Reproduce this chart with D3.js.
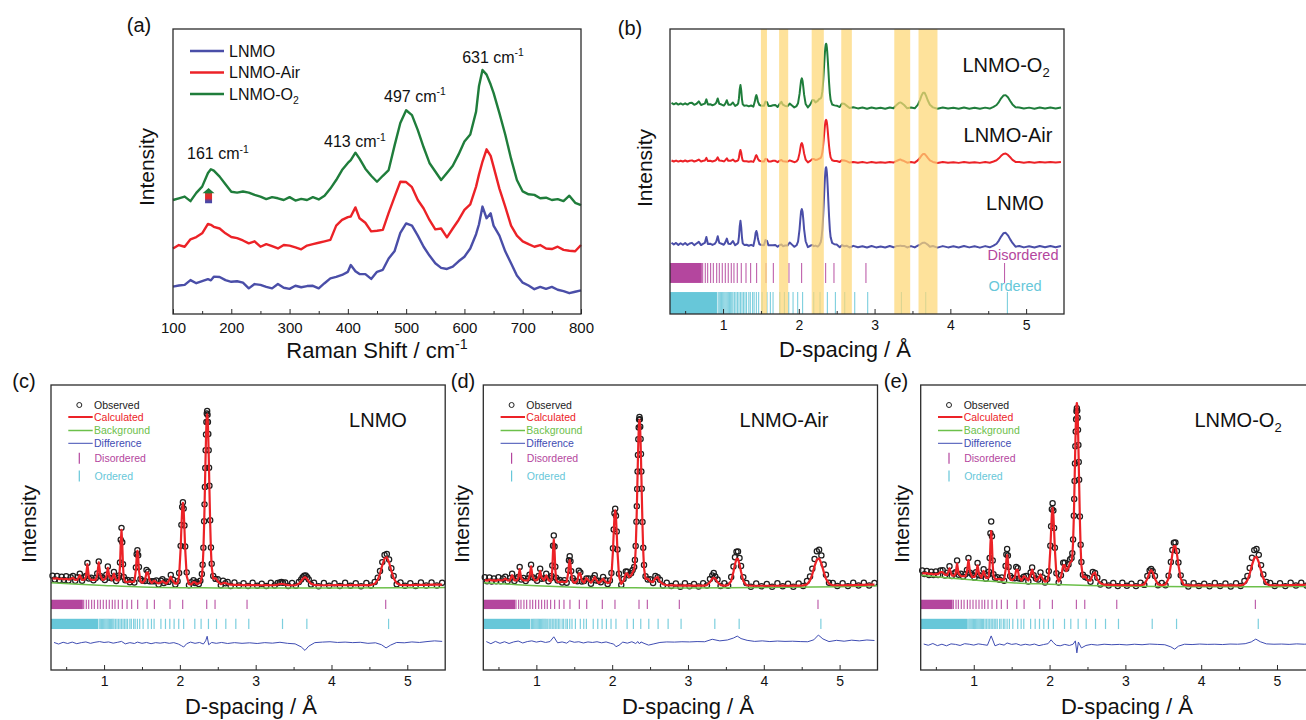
<!DOCTYPE html>
<html>
<head>
<meta charset="utf-8">
<script src="https://cdn.jsdelivr.net/npm/d3@7/dist/d3.min.js"></script>
<style>
  body { margin: 0; background: #fff; }
  svg { display: block; }
</style>
</head>
<body>
<svg id="fig" width="1306" height="720"></svg>
<script>
'use strict';

// ---------- (a) Raman spectra ----------
var ramanShift = [100,110,120,130,140,150,160,165,170,180,
  190,200,210,220,230,240,250,260,270,280,
  290,300,310,320,330,340,350,360,370,380,
  390,400,405,413,420,430,440,450,460,470,
  480,490,500,510,520,530,540,550,560,570,
  580,590,600,610,620,625,631,638,645,650,
  660,670,680,690,700,710,720,730,740,750,
  760,770,780,790,800];
var ramanLNMO = [9.6,10.0,10.2,11.9,10.8,11.5,12.2,11.8,13.1,13.0,
  11.9,11.3,11.5,11.0,9.0,10.5,10.2,9.5,9.0,10.5,
  9.2,8.8,9.9,9.4,9.8,9.9,9.0,10.8,12.5,13.0,
  13.7,14.8,17.2,15.0,14.0,14.0,12.3,14.8,15.5,19.5,
  22.0,28.5,31.8,31.0,27.5,23.6,20.5,17.8,16.2,15.8,
  16.6,18.5,20.1,23.0,28.0,31.5,37.7,33.6,35.3,31.0,
  27.5,22.0,17.8,13.5,11.0,10.0,8.7,9.5,8.8,9.5,
  8.5,8.0,7.3,7.8,8.3];
var ramanAir = [23.0,24.2,23.6,26.2,27.0,28.3,31.6,31.3,30.6,30.0,
  28.3,27.0,26.6,25.8,24.8,25.5,23.6,24.5,23.8,23.0,
  24.2,24.0,23.4,22.7,24.0,24.5,25.0,25.5,26.0,31.0,
  33.0,34.0,34.2,37.4,33.6,32.0,29.0,29.2,29.5,35.5,
  41.0,46.4,46.3,44.5,40.0,37.0,33.0,29.7,30.0,26.9,
  30.0,33.0,36.5,38.5,44.7,49.0,53.5,57.8,55.5,51.7,
  44.0,37.7,31.0,27.5,25.5,24.5,23.6,24.2,23.0,22.8,
  23.6,22.5,22.2,22.0,24.2];
var ramanO2 = [40.0,40.6,41.2,39.6,42.5,44.7,49.5,50.8,50.3,48.2,
  45.5,42.9,42.6,43.0,42.6,41.8,41.2,40.3,41.0,40.6,
  40.0,41.0,39.8,40.4,40.0,41.0,40.2,41.5,44.0,47.0,
  50.5,53.0,54.0,56.6,54.5,51.0,48.5,46.4,48.5,50.5,
  59.0,67.0,71.5,69.8,64.5,58.5,53.0,50.0,47.0,49.5,
  52.0,56.0,60.5,63.0,71.0,80.0,85.6,84.0,80.5,77.6,
  70.5,63.0,54.5,47.0,43.0,42.0,41.8,40.6,40.8,40.0,
  40.3,39.6,41.5,39.0,38.2];
var ramanSeriesNames = ['LNMO', 'LNMO-Air', 'LNMO-O2'];
var ramanPeakLabels = ['161', '413', '497', '631'];
var ramanPeakLabelAt = [177, 412, 515, 649];
var ramanPeakLabelLevel = [54.3, 58.5, 74.5, 88.2];
var ramanArrowAt = 161;
var ramanArrowSpan = [38.9, 44.2];
var ramanMajorTicks = [100, 200, 300, 400, 500, 600, 700, 800];
var ramanMinorTicks = [150, 250, 350, 450, 550, 650, 750];

// ---------- neutron diffraction, shared d-spacing grid ----------
var dSpacing = [0.32,0.35,0.38,0.41,0.44,0.47,0.50,0.53,0.56,0.59,
  0.62,0.65,0.68,0.71,0.74,0.76,0.78,0.80,0.83,0.86,
  0.89,0.91,0.93,0.95,0.98,1.01,1.03,1.05,1.07,1.10,
  1.13,1.16,
  1.19,1.20,1.21,1.22,1.23,1.24,1.25,1.26,1.28,
  1.31,1.34,1.37,1.40,
  1.42,1.43,1.44,1.45,1.46,1.48,
  1.51,1.54,1.56,1.58,1.60,1.63,1.66,1.69,1.72,1.75,1.77,1.79,1.82,1.85,1.88,1.91,1.94,1.97,
  1.99,2.01,2.02,2.03,2.04,2.05,2.06,2.07,2.09,
  2.12,2.15,2.18,2.20,2.22,2.25,2.27,
  2.29,2.30,2.31,2.32,2.325,2.33,2.335,2.34,2.345,2.35,2.355,2.36,2.365,2.37,2.375,2.38,2.385,2.39,2.40,2.41,2.42,
  2.44,2.47,2.50,2.54,2.57,2.60,2.63,2.67,2.72,2.78,
  2.84,2.90,2.96,3.02,3.08,3.14,3.20,3.25,3.29,3.32,
  3.34,3.36,3.39,3.43,3.48,3.53,3.57,3.60,3.62,3.64,
  3.66,3.68,3.70,3.73,3.77,3.83,3.90,3.97,4.04,4.11,
  4.18,4.25,4.32,4.39,4.46,4.52,4.57,4.61,4.64,4.67,
  4.70,4.73,4.76,4.79,4.82,4.86,4.91,4.97,5.04,5.11,
  5.18,5.25,5.32,5.39,5.46];

var calcLNMO = [5.5,5.3,5.6,5.0,5.4,4.9,5.3,4.8,5.2,5.8, 4.6,4.8,7.3,4.6,4.8,6.0,13.5,6.0,4.6,4.7, 4.6,7.4,14.5,7.4,4.6,5.0,6.5,11.4,6.4,4.5, 8.2,4.5,
  4.2,5.8,12.4,25.3,33.0,25.1,12.2,5.5,3.6,
  3.4,3.8,3.3,3.7,
  10.4,17.4,21.1,17.3,10.2,3.6,
  3.0,4.4,8.8,8.7,4.3,2.9,4.2,3.2,2.6,3.3,4.0,3.3,2.5,3.9,6.4,3.9,2.5,2.8,
  6.9,22.3,34.0,44.2,48.2,44.2,34.0,22.2,6.8,
  2.2,2.1,3.4,3.3,2.3,2.7,3.0,
  6.4,11.5,21.1,36.1,45.5,55.7,66.1,76.2,85.2,92.3,96.8,98.4,96.8,92.3,85.2,76.2,66.1,55.7,36.1,21.1,12.0,
  5.4,5.6,3.8,2.2,2.8,2.9,2.4,1.9,1.8,1.8, 1.7,1.8,1.7,1.7,1.6,1.7,1.6,1.7,1.9,2.3, 2.4,2.3,1.9,1.7,1.6,1.7,2.4,3.9,5.1,6.0,
  6.0,5.1,3.9,2.4,1.8,1.6,1.6,1.6,1.7,1.7, 1.6,1.7,1.7,1.6,1.7,1.7,2.4,4.6,8.2,12.9, 16.8,17.5,14.5,9.7,5.6,2.7,1.8,1.7,1.7,1.8,
  1.8,1.8,1.9,1.9,2.0];
var obsLNMO = [7.0,4.9,6.8,4.4,6.4,4.6,6.7,4.3,6.1,6.9, 4.1,6.1,8.1,4.2,6.0,6.9,14.2,5.4,5.9,4.4, 5.7,8.3,15.1,6.9,5.8,4.6,7.5,12.2,5.8,5.6, 9.1,4.0,
  5.9,7.2,14.5,27.4,34.1,26.0,13.5,6.3,4.4,
  4.6,3.3,4.5,3.1,
  11.6,19.2,21.5,18.6,11.9,5.2,
  4.2,4.0,10.3,9.3,3.8,3.9,3.9,4.3,2.0,4.2,5.0,2.8,3.7,3.5,7.4,4.7,2.0,3.9,
  8.5,23.9,35.8,45.9,48.6,45.0,35.4,23.6,8.9,
  1.6,3.3,4.4,2.8,3.5,2.3,4.1,
  8.0,13.2,22.9,37.8,47.4,57.3,68.0,78.1,87.0,94.1,98.9,100.3,98.2,94.0,87.3,78.0,68.2,57.9,38.4,23.0,13.8,
  6.9,5.2,5.0,1.6,4.1,2.7,3.4,1.2,3.2,1.5, 2.8,1.2,3.0,1.3,2.5,1.2,3.0,1.4,2.9,3.1, 3.5,3.0,3.1,1.2,2.9,1.3,3.4,4.8,6.2,7.0,
  7.2,6.1,4.8,2.0,3.0,1.0,2.9,1.3,2.7,1.2, 3.0,1.3,2.8,1.0,2.9,1.4,3.4,5.8,9.7,14.7, 18.7,19.3,16.2,11.2,6.8,2.2,3.1,1.3,2.8,1.2,
  3.1,1.5,3.1,1.4,3.0];

var calcAir = [4.6,4.2,4.8,4.3,4.5,4.1,4.7,4.3,4.5,5.3, 4.4,4.3,7.3,4.4,4.3,5.4,10.8,5.4,4.4,4.3, 4.4,6.6,12.3,6.6,4.3,4.5,5.9,9.8,5.9,4.4, 7.2,4.4,
  3.7,5.0,10.5,21.1,27.5,21.1,10.5,5.0,3.6,
  3.4,3.7,3.3,3.6,
  8.5,13.4,15.9,13.4,8.4,3.7,
  2.9,4.2,8.3,8.3,4.2,3.0,5.7,4.3,3.0,4.8,6.3,4.8,2.9,3.7,5.3,3.7,2.8,3.2,
  6.7,20.8,31.1,40.3,44.0,40.3,31.1,20.8,6.6,
  2.4,4.0,8.2,8.3,6.2,7.1,8.8,
  10.4,14.0,22.0,35.8,44.6,54.3,64.2,73.8,82.6,89.3,93.8,95.3,93.8,89.3,82.6,73.8,64.2,54.3,35.4,20.9,11.4,
  5.2,5.3,3.8,3.4,5.6,6.3,3.7,2.2,1.6,1.5, 1.5,1.4,1.5,1.4,1.4,1.4,1.4,1.7,3.3,5.3, 5.9,5.3,3.3,1.7,1.4,1.7,4.0,9.2,13.5,16.5,
  16.5,13.5,9.2,4.0,1.7,1.3,1.3,1.3,1.3,1.3, 1.3,1.4,1.3,1.4,1.4,1.5,2.1,4.3,7.8,12.4, 16.1,16.8,13.9,9.3,5.3,2.5,1.6,1.6,1.6,1.7,
  1.7,1.8,1.8,1.9,1.9];
var obsAir = [6.1,3.8,6.0,3.7,5.5,3.8,6.1,3.8,5.4,6.4, 3.9,5.6,8.1,4.0,5.5,6.3,11.9,4.8,5.7,4.0, 5.5,7.5,13.2,6.1,5.5,4.1,6.9,10.9,5.3,5.5, 8.1,3.9,
  5.6,6.8,12.8,24.0,29.8,23.5,12.1,5.9,4.3,
  4.6,3.2,4.5,3.0,
  10.1,15.8,18.0,15.2,9.6,5.6,
  4.1,3.8,9.8,8.9,3.7,4.0,5.4,5.4,2.4,5.7,7.3,4.3,4.1,3.3,6.3,4.5,2.3,4.3,
  8.6,22.6,33.2,42.4,45.0,41.0,32.0,21.8,8.1,
  1.8,5.2,9.4,9.2,7.3,8.4,10.2,
  12.0,15.9,23.8,37.5,46.4,56.1,66.0,75.4,84.3,91.0,95.4,96.9,95.6,91.3,84.4,75.9,66.0,56.2,37.4,22.8,13.1,
  6.7,4.9,5.0,2.8,6.9,6.1,4.7,1.5,3.0,1.2, 2.6,0.8,2.8,1.0,2.3,0.9,2.8,1.4,5.1,7.2, 8.5,6.6,4.9,1.2,2.7,1.3,6.3,12.2,17.4,20.6,
  20.7,17.0,12.5,6.2,2.9,0.7,2.6,1.0,2.3,0.8, 2.7,1.0,2.4,0.8,2.6,1.2,4.0,6.6,11.0,16.5, 20.8,21.7,18.5,13.3,7.6,3.0,2.9,1.2,2.7,1.1,
  3.0,1.5,3.0,1.4,2.9];

var calcO2 = [8.5,8.3,8.5,8.0,8.2,7.7,8.0,7.9,9.0,9.0, 7.6,7.4,11.2,7.2,7.0,8.1,13.9,8.1,6.8,6.7, 6.7,9.3,15.9,9.2,6.3,6.3,8.0,12.9,7.9,5.9, 9.7,5.8,
  5.7,7.1,13.2,25.1,32.3,25.0,13.1,7.0,5.2,
  5.0,5.2,4.8,4.8,
  10.4,15.9,18.7,15.9,10.3,4.9,
  4.5,5.9,10.3,10.3,5.9,4.3,6.7,5.7,4.3,7.8,10.5,7.8,4.2,5.3,7.7,5.2,3.6,4.0,
  7.7,21.9,32.4,41.6,45.4,41.6,32.4,21.9,7.6,
  3.7,6.1,12.9,13.0,9.6,11.7,14.5,
  15.1,18.0,25.9,40.2,49.7,60.2,70.9,81.5,90.8,98.3,103.2,104.8,103.2,98.3,90.7,81.2,70.5,59.4,38.4,22.5,12.9,
  6.1,6.6,4.5,4.2,7.8,8.8,4.8,2.7,1.9,1.8, 1.8,1.7,1.7,1.7,1.6,1.6,1.6,2.1,5.3,9.0, 10.1,9.0,5.3,2.1,1.6,2.0,5.4,13.0,19.4,23.8,
  23.8,19.4,13.0,5.4,1.9,1.5,1.5,1.5,1.5,1.5, 1.5,1.5,1.5,1.5,1.5,1.5,2.2,4.5,8.1,13.0, 17.0,17.7,14.6,9.7,5.5,2.5,1.6,1.6,1.6,1.7,
  1.7,1.8,1.8,1.9,1.9];
var obsO2 = [10.0,7.9,9.7,7.4,9.2,7.4,9.4,7.4,9.9,10.1, 7.1,8.7,12.4,6.8,8.2,9.0,15.6,7.5,8.1,6.4, 7.8,10.2,17.0,8.7,7.5,5.9,9.0,14.2,7.3,7.0, 10.6,5.3,
  7.5,9.3,17.0,31.0,37.7,29.4,15.6,7.9,5.8,
  6.2,4.7,6.0,4.2,
  12.5,19.0,22.1,18.4,12.0,6.8,
  5.7,5.5,12.0,11.2,5.4,5.3,6.4,6.8,3.7,8.9,11.7,7.3,5.4,4.9,8.9,6.0,3.1,5.1,
  9.6,24.0,35.0,44.6,48.1,43.9,34.0,22.8,8.4,
  3.1,7.3,14.4,14.3,10.9,13.3,16.2,
  17.0,19.8,27.5,41.0,50.5,60.6,70.6,80.3,88.7,95.6,100.1,101.9,100.5,96.4,89.6,81.0,71.4,61.3,40.6,24.5,14.8,
  7.6,6.2,5.7,3.6,9.1,8.6,5.8,2.0,3.3,1.5, 2.9,1.1,3.0,1.3,2.5,1.1,3.0,1.8,6.9,10.0, 10.8,9.6,6.8,1.6,2.9,1.6,7.0,14.8,21.6,25.7,
  25.8,21.0,14.5,7.2,3.1,0.9,2.8,1.2,2.5,1.0, 2.9,1.1,2.6,0.9,2.7,1.2,4.0,6.8,11.4,17.2, 21.5,22.1,18.8,13.0,7.7,3.4,2.9,1.2,2.7,1.1,
  3.0,1.5,3.0,1.4,2.9];

var bgSpacing = [0.3, 0.6, 1.0, 1.5, 2.0, 2.5, 3.0, 4.0, 5.0, 5.5];
var bgLNMO = [3.0, 2.3, 1.5, 0.6, 0.2, 0.1, 0.1, 0.1, 0.2, 0.3];
var bgAir = [3.0, 2.3, 1.3, 0.5, 0.2, 0.1, 0.1, 0.3, 0.8, 1.3];
var bgO2 = [7.2, 6.0, 4.5, 3.0, 2.2, 1.5, 1.0, 0.7, 0.8, 1.0];

var diffSpacing = [0.34,0.40,0.46,0.52,0.58,0.64,0.70,0.76,0.82,0.88,
  0.94,1.00,1.06,1.12,1.18,1.23,1.28,1.34,1.40,1.44,
  1.50,1.56,1.62,1.68,1.74,1.80,1.86,1.92,1.98,2.02,
  2.05,2.09,2.14,2.20,2.26,2.31,2.34,2.36,2.38,2.42,
  2.48,2.55,2.63,2.72,2.82,2.92,3.02,3.12,3.22,3.32,
  3.42,3.52,3.60,3.65,3.70,3.78,3.88,3.98,4.08,4.18,
  4.28,4.38,4.48,4.58,4.66,4.72,4.78,4.86,4.96,5.06,
  5.16,5.26,5.36,5.46];
var diffLNMO = [0.3,-0.6,0.4,-0.3,0.5,-0.4,0.2,0.6,-0.2,0.4,
  0.8,0.3,0.6,-0.1,0.4,0.9,-0.5,0.2,-0.3,0.5,
  -0.2,0.3,-0.4,0.2,-0.1,0.3,-0.2,0.2,-0.6,-1.5,
  -2.3,-0.4,0.5,-0.2,0.3,-0.6,1.2,3.8,-1.0,0.3,
  -0.2,0.3,-0.3,0.2,-0.2,0.1,-0.3,0.2,-0.1,0.4,
  -0.2,-0.5,-2.2,-4.2,-1.8,0.2,0.5,0.7,0.3,0.5,
  0.2,0.4,-0.2,0.1,-1.0,-2.8,-1.2,0.3,0.1,0.6,
  0.3,0.8,1.2,0.9];
var diffAir = [0.5,-0.7,0.6,-0.5,0.4,-0.6,0.3,0.8,-0.3,0.5,
  0.9,0.2,0.7,0.0,0.5,3.2,-0.2,0.3,-0.4,0.9,
  0.1,0.4,-0.3,0.3,0.0,0.4,-0.2,0.3,-0.5,-0.9,
  -2.4,-1.6,0.2,-0.4,0.4,-0.6,0.5,-0.8,0.3,-0.5,
  -1.5,-0.8,0.0,0.3,0.2,0.4,0.3,0.5,0.4,1.8,
  0.9,1.4,2.5,3.6,2.2,1.2,0.6,0.9,0.5,0.8,
  0.6,0.7,0.5,0.4,1.5,4.2,2.0,0.5,1.2,0.7,
  1.3,0.9,1.4,1.1];
var diffO2 = [0.4,-0.3,0.7,-0.5,0.3,-0.6,0.5,0.2,-0.4,0.6,
  0.3,-0.2,0.5,0.1,-0.3,5.0,-0.6,0.4,-0.2,1.0,
  0.2,0.6,-0.3,0.3,-0.2,0.4,-0.5,0.1,0.6,2.8,
  1.2,-0.3,-0.6,0.2,-0.4,0.3,2.2,-4.6,1.5,-1.8,
  -0.4,0.2,-0.2,0.3,0.0,0.2,-0.1,0.3,0.0,0.4,
  0.2,0.0,-1.2,-2.5,-0.8,0.3,0.1,0.4,0.2,0.3,
  0.1,0.4,0.3,0.6,1.6,3.2,1.7,0.5,0.3,0.4,
  0.2,0.5,0.3,0.6];

// reflection markers
var disorderedBlockEnd = 0.72;
var disorderedTicks = [0.731,0.766,0.797,0.836,0.872,0.916,0.951,0.990,1.030,1.069,
  1.109,1.144,1.188,1.241,1.303,1.364,1.443,1.567,1.664,1.870,
  2.037,2.354,2.464,2.886,4.715];
var orderedBlockEnd = 0.92;
var orderedTicks = [0.935,0.95,0.965,0.98,0.995,1.01,1.025,1.04,1.055,1.07,
  1.085,1.10,1.115,1.13,1.15,1.17,1.19,1.21,1.23,1.25,
  1.27,1.29,1.31,1.34,1.36,1.39,1.41,1.44,1.47,1.515,
  1.58,1.625,1.66,1.75,1.81,1.867,1.924,1.985,2.05,2.197,
  2.28,2.377,2.483,2.606,2.738,2.909,3.354,3.675,4.753];

// (b) highlighted d-ranges
var bandRanges = [[1.50, 1.58], [1.74, 1.86], [2.17, 2.33], [2.56, 2.70], [3.26, 3.47], [3.58, 3.83]];
var dMajorTicks = [1, 2, 3, 4, 5];
var dMinorTicks = [0.5, 1.5, 2.5, 3.5, 4.5];

var FONT = '"Liberation Sans", Arial, Helvetica, sans-serif';
var COL = {
  blue: '#4a4ea8', red: '#ec2227', green: '#1f7d3b', bg: '#6cc04a',
  diff: '#3f4db3', magenta: '#b4469e', cyan: '#67c7d9', band: '#fdd775',
  frame: '#2b2b2b', text: '#111'
};

var svg = d3.select('#fig').style('font-family', FONT);

// text with sub/superscript parts: [[text, 'sup'|'sub'|null], ...]
function richText(parent, x, y, parts, size, color, anchor) {
  var t = parent.append('text').attr('x', x).attr('y', y)
    .attr('font-size', size).attr('fill', color || COL.text)
    .attr('text-anchor', anchor || 'start');
  var shift = 0;
  parts.forEach(function (p) {
    var s = p[1] === 'sup' ? -0.42 * size : (p[1] === 'sub' ? 0.25 * size : 0);
    t.append('tspan').attr('dy', s - shift)
      .attr('font-size', p[1] ? size * 0.65 : size).text(p[0]);
    shift = s;
  });
  return t;
}

function bottomAxis(g, x, y, major, minor, fontSize, pad) {
  var ax = g.append('g').attr('transform', 'translate(0,' + y + ')')
    .call(d3.axisBottom(x).tickValues(major).tickSize(-5).tickPadding(pad).tickFormat(d3.format('d')));
  ax.select('.domain').remove();
  ax.selectAll('line').attr('stroke', COL.frame);
  ax.selectAll('text').attr('font-size', fontSize).attr('font-family', FONT).attr('fill', COL.text);
  var mn = g.append('g').attr('transform', 'translate(0,' + y + ')')
    .call(d3.axisBottom(x).tickValues(minor).tickSize(-3).tickFormat(''));
  mn.select('.domain').remove();
  mn.selectAll('line').attr('stroke', COL.frame);
}

function frame(g, x, y) {
  g.append('rect')
    .attr('x', x.range()[0]).attr('y', y.range()[1])
    .attr('width', x.range()[1] - x.range()[0])
    .attr('height', y.range()[0] - y.range()[1])
    .attr('fill', 'none').attr('stroke', COL.frame).attr('stroke-width', 1.3);
}

function yLabel(g, cx, cy) {
  g.append('text').attr('transform', 'translate(' + cx + ',' + cy + ') rotate(-90)')
    .attr('text-anchor', 'middle').attr('dy', '0.35em')
    .attr('font-size', 21).attr('fill', COL.text).text('Intensity');
}

function dTitle(g, cx, baseY) {
  g.append('text').attr('x', cx).attr('y', baseY).attr('text-anchor', 'middle')
    .attr('font-size', 22).attr('fill', COL.text).text('D-spacing / \u00c5');
}

function tickRows(g, x, y, disRow, ordRow, width) {
  g.append('rect').attr('x', x(0.3)).attr('width', x(disorderedBlockEnd) - x(0.3))
    .attr('y', y(disRow[1])).attr('height', y(disRow[0]) - y(disRow[1]))
    .attr('fill', COL.magenta);
  g.selectAll(null).data(disorderedTicks).enter().append('line')
    .attr('x1', function (d) { return x(d); }).attr('x2', function (d) { return x(d); })
    .attr('y1', y(disRow[1])).attr('y2', y(disRow[0]))
    .attr('stroke', COL.magenta).attr('stroke-width', width).attr('opacity', 0.85);
  g.append('rect').attr('x', x(0.3)).attr('width', x(orderedBlockEnd) - x(0.3))
    .attr('y', y(ordRow[1])).attr('height', y(ordRow[0]) - y(ordRow[1]))
    .attr('fill', COL.cyan);
  g.selectAll(null).data(orderedTicks).enter().append('line')
    .attr('x1', function (d) { return x(d); }).attr('x2', function (d) { return x(d); })
    .attr('y1', y(ordRow[1])).attr('y2', y(ordRow[0]))
    .attr('stroke', COL.cyan).attr('stroke-width', width).attr('opacity', 0.85);
}

// ================= panel (a) =================
(function () {
  var g = svg.append('g');
  var x = d3.scaleLinear().domain([100, 800]).range([173, 581]);
  var y = d3.scaleLinear().domain([0, 100]).range([314, 29]);

  var line = d3.line()
    .x(function (d, i) { return x(ramanShift[i]); })
    .y(function (d) { return y(d); });

  var series = [[ramanLNMO, COL.blue], [ramanAir, COL.red], [ramanO2, COL.green]];
  series.forEach(function (s) {
    g.append('path').datum(s[0]).attr('d', line)
      .attr('fill', 'none').attr('stroke', s[1]).attr('stroke-width', 2.4)
      .attr('stroke-linejoin', 'round');
  });

  // peak labels
  ramanPeakLabels.forEach(function (lab, i) {
    richText(g, x(ramanPeakLabelAt[i]), y(ramanPeakLabelLevel[i]),
      [[lab + ' cm', null], ['-1', 'sup']], 16, COL.text, 'middle');
  });

  // gradient arrow at 161 cm-1
  var grad = svg.append('defs').append('linearGradient').attr('id', 'arrowGrad')
    .attr('x1', 0).attr('y1', 0).attr('x2', 0).attr('y2', 1);
  [[0, COL.green], [0.3, COL.green], [0.4, '#d8332c'], [0.68, '#e8262a'], [0.85, '#4b48a6'], [1, '#4b48a6']]
    .forEach(function (s) { grad.append('stop').attr('offset', s[0]).attr('stop-color', s[1]); });
  var ax = x(ramanArrowAt), yb = y(ramanArrowSpan[0]), yt = y(ramanArrowSpan[1]);
  var hh = (yb - yt) * 0.34;
  g.append('path')
    .attr('d', 'M' + (ax - 3.5) + ',' + yb + 'V' + (yt + hh) + 'H' + (ax - 6) + 'L' + ax + ',' + yt +
      'L' + (ax + 6) + ',' + (yt + hh) + 'H' + (ax + 3.5) + 'V' + yb + 'Z')
    .attr('fill', 'url(#arrowGrad)');

  // legend
  var lg = g.append('g');
  series.forEach(function (s, i) {
    var ly = 51 + i * 21.5;
    lg.append('line').attr('x1', 190).attr('x2', 224).attr('y1', ly).attr('y2', ly)
      .attr('stroke', s[1]).attr('stroke-width', 2.6);
    var parts = ramanSeriesNames[i] === 'LNMO-O2' ? [['LNMO-O', null], ['2', 'sub']] : [[ramanSeriesNames[i], null]];
    richText(lg, 229, ly + 5.8, parts, 16, COL.text, 'start');
  });

  bottomAxis(g, x, 314, ramanMajorTicks, ramanMinorTicks, 15, 8);
  frame(g, x, y);
  yLabel(g, 147, 167);
  richText(g, 377, 358, [['Raman  Shift / cm', null], ['-1', 'sup']], 22, COL.text, 'middle');
  g.append('text').attr('x', 139).attr('y', 32).attr('text-anchor', 'middle')
    .attr('font-size', 20).attr('fill', COL.text).text('(a)');
})();

// ================= panel (b) =================
var stackScale = [0.284, 0.157, 0.226];
var stackOffset = [23.0, 52.9, 71.8];
(function () {
  var g = svg.append('g');
  var x = d3.scaleLinear().domain([0.3, 5.5]).range([670, 1064]);
  var y = d3.scaleLinear().domain([0, 100]).range([314, 29]);

  tickRows(g, x, y, [10.9, 17.9], [0, 7.7], 1.1);

  var obsSets = [[obsLNMO, COL.blue], [obsAir, COL.red], [obsO2, COL.green]];
  obsSets.forEach(function (s, k) {
    var line = d3.line()
      .x(function (d, i) { return x(dSpacing[i]); })
      .y(function (d) { return y(stackOffset[k] + stackScale[k] * d); });
    g.append('path').datum(s[0]).attr('d', line)
      .attr('fill', 'none').attr('stroke', s[1]).attr('stroke-width', 2)
      .attr('stroke-linejoin', 'round');
  });

  g.selectAll(null).data(bandRanges).enter().append('rect')
    .attr('x', function (d) { return x(d[0]); })
    .attr('width', function (d) { return x(d[1]) - x(d[0]); })
    .attr('y', 29).attr('height', 285)
    .attr('fill', COL.band).attr('opacity', 0.72);

  richText(g, 1006, 72, [['LNMO-O', null], ['2', 'sub']], 20, COL.text, 'middle');
  g.append('text').attr('x', 1008).attr('y', 142).attr('text-anchor', 'middle')
    .attr('font-size', 20).attr('fill', COL.text).text('LNMO-Air');
  g.append('text').attr('x', 1015).attr('y', 210).attr('text-anchor', 'middle')
    .attr('font-size', 20).attr('fill', COL.text).text('LNMO');
  g.append('text').attr('x', 1023).attr('y', 260).attr('text-anchor', 'middle')
    .attr('font-size', 14.5).attr('fill', COL.magenta).text('Disordered');
  g.append('text').attr('x', 1015).attr('y', 291).attr('text-anchor', 'middle')
    .attr('font-size', 14.5).attr('fill', COL.cyan).text('Ordered');

  bottomAxis(g, x, 314, dMajorTicks, dMinorTicks, 14, 6);
  frame(g, x, y);
  yLabel(g, 645, 168);
  dTitle(g, 845, 357);
  g.append('text').attr('x', 630).attr('y', 35).attr('text-anchor', 'middle')
    .attr('font-size', 20).attr('fill', COL.text).text('(b)');
})();

// ================= panels (c)-(e) =================
var rietveldPanels = [
  { letter: '(c)', left: 51, obs: obsLNMO, calc: calcLNMO, bg: bgLNMO, diff: diffLNMO, diffBase: -31.1,
    name: [['LNMO', null]], nameX: 378, letterX: 24, yLabX: 29, titleX: 251 },
  { letter: '(d)', left: 483.3, obs: obsAir, calc: calcAir, bg: bgAir, diff: diffAir, diffBase: -30.8,
    name: [['LNMO-Air', null]], nameX: 784, letterX: 463, yLabX: 462, titleX: 688 },
  { letter: '(e)', left: 920.7, obs: obsO2, calc: calcO2, bg: bgO2, diff: diffO2, diffBase: -32.1,
    name: [['LNMO-O', null], ['2', 'sub']], nameX: 1238, letterX: 896, yLabX: 902, titleX: 1127 }
];
var legendItems = ['Observed', 'Calculated', 'Background', 'Difference', 'Disordered', 'Ordered'];
var legendColors = ['#222', COL.red, COL.bg, COL.diff, COL.magenta, COL.cyan];
var legendRows = [20, 32, 45.5, 58.3, 73.3, 91];

rietveldPanels.forEach(function (p) {
  var g = svg.append('g');
  var x = d3.scaleLinear().domain([0.3, 5.5]).range([p.left, p.left + 394.2]);
  var y = d3.scaleLinear().domain([-46.4, 115]).range([670, 385]);

  tickRows(g, x, y, [-11.9, -6.6], [-23.2, -17.4], 1.2);

  g.selectAll(null).data(p.obs).enter().append('circle')
    .attr('cx', function (d, i) { return x(dSpacing[i]); })
    .attr('cy', function (d) { return y(d); })
    .attr('r', 2.6).attr('fill', 'none').attr('stroke', '#1e1e1e').attr('stroke-width', 1.25);

  var bgLine = d3.line().curve(d3.curveMonotoneX)
    .x(function (d, i) { return x(bgSpacing[i]); }).y(function (d) { return y(d); });
  g.append('path').datum(p.bg).attr('d', bgLine)
    .attr('fill', 'none').attr('stroke', COL.bg).attr('stroke-width', 1.5);

  var calcLine = d3.line()
    .x(function (d, i) { return x(dSpacing[i]); }).y(function (d) { return y(d); });
  g.append('path').datum(p.calc).attr('d', calcLine)
    .attr('fill', 'none').attr('stroke', COL.red).attr('stroke-width', 2.2)
    .attr('stroke-linejoin', 'round');

  var diffLine = d3.line()
    .x(function (d, i) { return x(diffSpacing[i]); }).y(function (d) { return y(p.diffBase + d); });
  g.append('path').datum(p.diff).attr('d', diffLine)
    .attr('fill', 'none').attr('stroke', COL.diff).attr('stroke-width', 1);

  // legend
  var lx = p.left;
  legendItems.forEach(function (name, i) {
    var ly = 385 + legendRows[i];
    if (i === 0) {
      g.append('circle').attr('cx', lx + 28.3).attr('cy', ly).attr('r', 2.5)
        .attr('fill', 'none').attr('stroke', '#222').attr('stroke-width', 1);
    } else if (i <= 3) {
      g.append('line').attr('x1', lx + 17.3).attr('x2', lx + 41.7).attr('y1', ly).attr('y2', ly)
        .attr('stroke', legendColors[i]).attr('stroke-width', i === 1 ? 2 : (i === 2 ? 1.5 : 1));
    } else {
      g.append('line').attr('x1', lx + 28.3).attr('x2', lx + 28.3).attr('y1', ly - 5.5).attr('y2', ly + 5.5)
        .attr('stroke', legendColors[i]).attr('stroke-width', 1.2);
    }
    g.append('text').attr('x', lx + (i >= 4 ? 43.5 : 43)).attr('y', ly + 3.7)
      .attr('font-size', 10.5).attr('fill', legendColors[i]).text(name);
  });

  richText(g, p.nameX, 427, p.name, 20, COL.text, 'middle');

  bottomAxis(g, x, 670, dMajorTicks, dMinorTicks, 14, 6);
  frame(g, x, y);
  yLabel(g, p.yLabX, 524);
  dTitle(g, p.titleX, 714);
  g.append('text').attr('x', p.letterX).attr('y', 388).attr('text-anchor', 'middle')
    .attr('font-size', 20).attr('fill', COL.text).text(p.letter);
});
</script>
</body>
</html>
